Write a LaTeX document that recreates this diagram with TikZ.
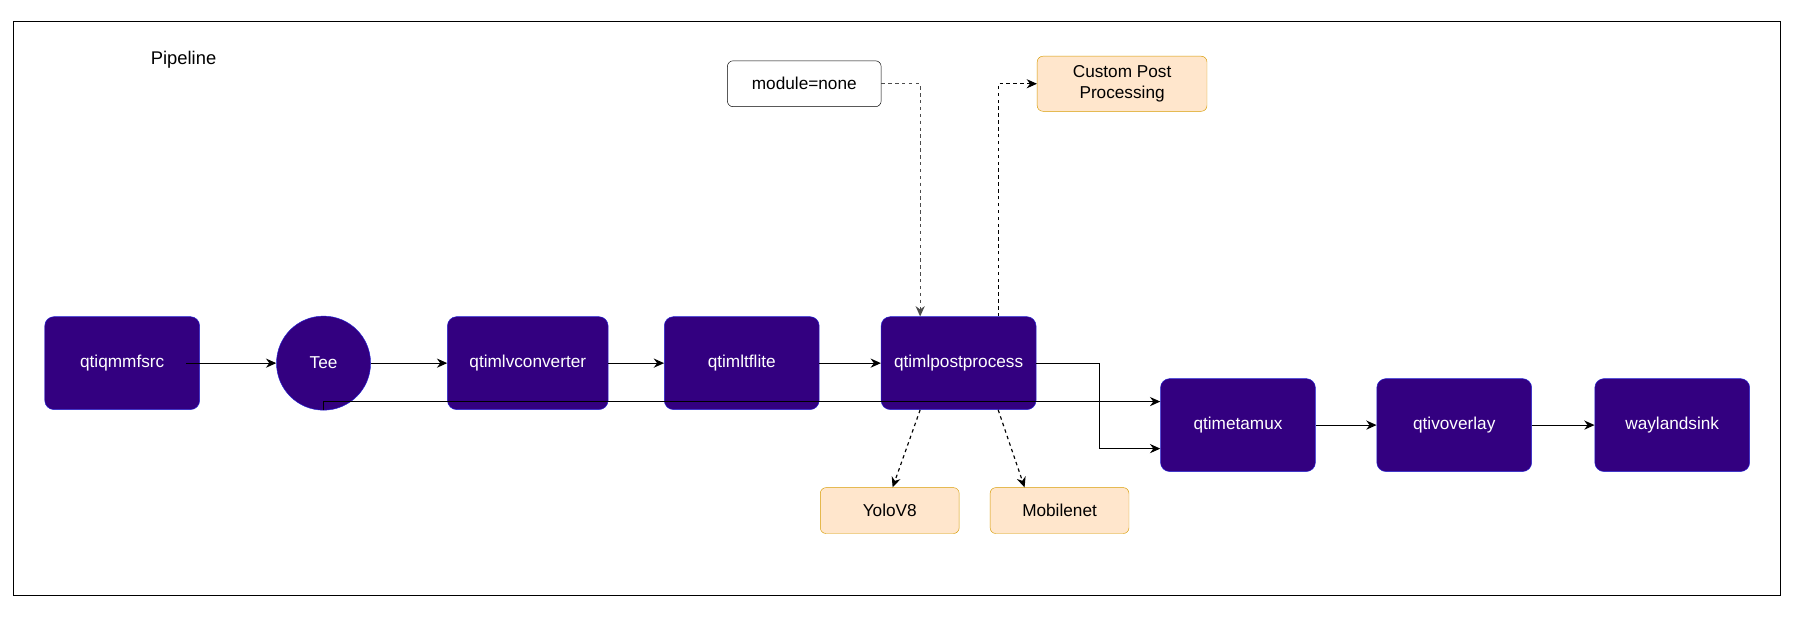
\documentclass[tikz,border=0pt]{standalone}
\usepackage{fontspec}
\setmainfont{Liberation Sans}
\usetikzlibrary{arrows.meta}
\definecolor{pur}{HTML}{330080}
\definecolor{purb}{HTML}{2424D6}
\definecolor{orf}{HTML}{FFE6CC}
\definecolor{orb}{HTML}{D79B00}
\begin{document}
\begin{tikzpicture}[x=1pt,y=-1pt,
  blk/.style={draw=purb,fill=pur,rounded corners=8pt,minimum width=135pt,minimum height=81pt,text=white,font=\fontsize{15}{18}\selectfont,inner sep=0pt},
  obox/.style={draw=orb,fill=orf,rounded corners=5pt,minimum width=121pt,minimum height=40pt,align=center,font=\fontsize{15}{18}\selectfont,inner sep=0pt},
  arr/.style={-{Stealth[length=9pt,width=8pt]},line width=1pt},
  darr/.style={arr,dashed}]
\useasboundingbox (0,0) rectangle (1568,539);
\draw[line width=1pt] (12,19) rectangle (1552,519);
\node[font=\fontsize{16}{19}\selectfont] (title) at (160,52) {Pipeline};
\node[blk] (src) at (106.5,316.5) {qtiqmmfsrc};
\node[blk,circle,minimum size=82pt] (tee) at (282,316.5) {Tee};
\node[blk,minimum width=140pt] (conv) at (460,316.5) {qtimlvconverter};
\node[blk] (tfl) at (646.5,316.5) {qtimltflite};
\node[blk] (post) at (835.5,316.5) {qtimlpostprocess};
\node[blk] (mux) at (1079,370.5) {qtimetamux};
\node[blk] (ovl) at (1267.5,370.5) {qtivoverlay};
\node[blk] (sink) at (1457.5,370.5) {waylandsink};
\node[draw,rounded corners=5pt,fill=white,minimum width=134pt,minimum height=40pt,font=\fontsize{15}{18}\selectfont,inner sep=0pt] (mod) at (701,73) {module=none};
\node[obox,minimum width=148pt,minimum height=48pt] (cpp) at (978,73) {Custom Post\\Processing};
\node[obox] (yolo) at (775.5,445) {YoloV8};
\node[obox] (mob) at (923.5,445) {Mobilenet};
\coordinate (s1) at (162,316.5);
\draw[arr] (s1) -- (tee);
\draw[arr] (tee) -- (conv);
\draw[arr] (conv) -- (tfl);
\draw[arr] (tfl) -- (post);
\draw[arr] (post.east) -- (958,316.5) |- ([yshift=-20.5pt]mux.west);
\draw[arr] (tee.south) |- ([yshift=20.5pt]mux.west);
\draw[arr] (mux) -- (ovl);
\draw[arr] (ovl) -- (sink);
\draw[darr,gray!60!black] (mod.east) -| ([xshift=-33.5pt]post.north);
\draw[darr] ([xshift=34.5pt]post.north) |- (cpp.west);
\draw[darr] ([xshift=-33.5pt]post.south) -- ([xshift=2.5pt]yolo.north);
\draw[darr] ([xshift=34.5pt]post.south) -- ([xshift=-30.5pt]mob.north);
\end{tikzpicture}
\end{document}
